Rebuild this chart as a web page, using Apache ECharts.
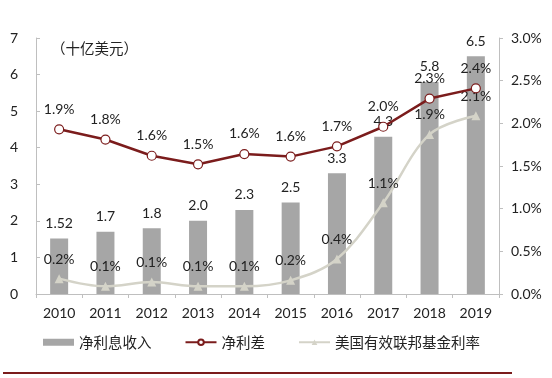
<!DOCTYPE html>
<html><head><meta charset="utf-8">
<script src="https://cdn.jsdelivr.net/npm/echarts@6/dist/echarts.min.js"></script>
<style>html,body{margin:0;padding:0;background:#fff}#c{width:552px;height:378px}</style>
</head><body><div id="c"></div>
<script>
const years = ['2010','2011','2012','2013','2014','2015','2016','2017','2018','2019'];
const netInterestIncome = [1.52, 1.7, 1.8, 2.0, 2.3, 2.5, 3.3, 4.3, 5.8, 6.5];
const netInterestMargin = [1.93, 1.81, 1.62, 1.52, 1.64, 1.61, 1.73, 1.96, 2.29, 2.41];
const fedFundsRate = [0.18, 0.09, 0.14, 0.09, 0.09, 0.16, 0.41, 1.07, 1.87, 2.09];
const leftTicks = [0, 7, 1];
const rightTicks = [0, 3, 0.5];
const unitLabel = '（十亿美元）';

const latin = 'Lato, "Noto Sans", sans-serif';
const cjk = '"Noto Sans CJK SC", sans-serif';
const chart = echarts.init(document.getElementById('c'), null, {renderer: 'canvas'});
chart.setOption({
  animation: false,
  backgroundColor: '#fff',
  grid: {left: 36, right: 53, top: 38, bottom: 84, containLabel: false},
  title: {text: unitLabel, left: 46, top: 36, textStyle: {fontFamily: cjk, fontSize: 14.5, fontWeight: 'normal', color: '#222'}},
  legend: {
    left: 38, top: 330, itemGap: 33, itemWidth: 31, itemHeight: 7,
    textStyle: {fontFamily: cjk, fontSize: 14.5, color: '#222'},
    data: [
      {name: '净利息收入', icon: 'rect'},
      {name: '净利差'},
      {name: '美国有效联邦基金利率'}
    ]
  },
  xAxis: {
    type: 'category', data: years,
    axisLine: {lineStyle: {color: '#bfbfbf'}},
    axisTick: {show: true, alignWithLabel: false, length: 4, lineStyle: {color: '#bfbfbf'}},
    axisLabel: {color: '#222', fontFamily: latin, fontSize: 14, margin: 12}
  },
  yAxis: [
    {type: 'value', min: leftTicks[0], max: leftTicks[1], interval: leftTicks[2],
     splitLine: {show: false},
     axisLine: {show: true, lineStyle: {color: '#bfbfbf'}},
     axisTick: {show: true, inside: true, length: 4, lineStyle: {color: '#bfbfbf'}},
     axisLabel: {color: '#222', fontFamily: latin, fontSize: 14, margin: 18}},
    {type: 'value', min: rightTicks[0], max: rightTicks[1], interval: rightTicks[2],
     splitLine: {show: false},
     axisLine: {show: true, lineStyle: {color: '#bfbfbf'}},
     axisTick: {show: true, inside: false, length: 4, lineStyle: {color: '#bfbfbf'}},
     axisLabel: {color: '#222', fontFamily: latin, fontSize: 14, margin: 12,
       formatter: v => v.toFixed(1) + '%'}}
  ],
  series: [
    {name: '净利息收入', type: 'bar', yAxisIndex: 0, data: netInterestIncome, barWidth: 18,
     itemStyle: {color: '#a6a6a6'},
     label: {show: true, position: 'top', distance: 8, color: '#222', fontFamily: latin, fontSize: 14,
       formatter: p => { const v = p.value; return Math.round(v*10)/10 === v ? v.toFixed(1) : String(v); }}},
    {name: '净利差', type: 'line', yAxisIndex: 1, data: netInterestMargin, z: 4,
     symbol: 'circle', symbolSize: 9, showAllSymbol: true,
     lineStyle: {color: '#7b1c1c', width: 2.5},
     itemStyle: {color: '#fff', borderColor: '#7b1c1c', borderWidth: 1.2},
     label: {show: true, position: 'top', distance: 8, color: '#222', fontFamily: latin, fontSize: 14,
       formatter: p => p.value.toFixed(1) + '%'}},
    {name: '美国有效联邦基金利率', type: 'line', yAxisIndex: 1, data: fedFundsRate, smooth: 0.35, z: 3,
     symbol: 'triangle', symbolSize: 9, showAllSymbol: true,
     lineStyle: {color: '#d4d3c8', width: 2.5},
     itemStyle: {color: '#d4d3c8'},
     label: {show: true, position: 'top', distance: 8, color: '#222', fontFamily: latin, fontSize: 14,
       formatter: p => p.value.toFixed(1) + '%'}}
  ],
  graphic: [{type: 'line', shape: {x1: 3, y1: 373, x2: 512, y2: 373}, style: {stroke: '#7b1c1c', lineWidth: 2}}]
});
</script></body></html>
